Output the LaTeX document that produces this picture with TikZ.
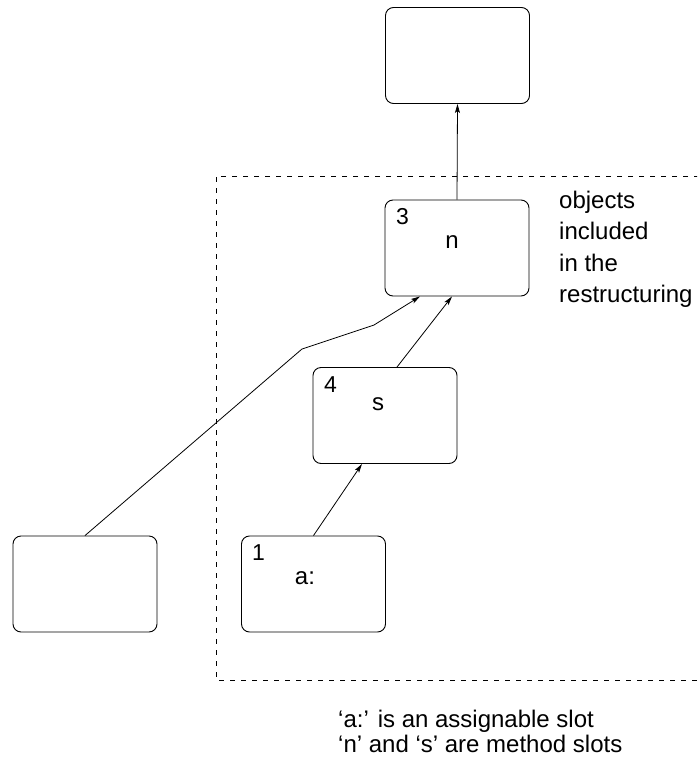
\documentclass[tikz,border=0pt]{standalone}
\usepackage{fontspec}
\setmainfont{Liberation Sans}
\usetikzlibrary{arrows.meta}
\begin{document}
\begin{tikzpicture}[x=1pt,y=-1pt,
  obj/.style={draw,line width=0.9pt,rounded corners=8pt,minimum width=144pt,minimum height=96pt,inner sep=0pt},
  link/.style={line width=0.8pt,-{Stealth[length=9pt,width=5pt,inset=2pt]}},
  region/.style={line width=0.8pt,dash pattern=on 5pt off 6pt},
  lbl/.style={inner sep=0pt,anchor=base,font=\fontsize{24}{28}\selectfont},
  num/.style={inner sep=0pt,anchor=base west,font=\fontsize{23}{28}\selectfont},
  note/.style={inner sep=0pt,anchor=base west,font=\fontsize{24}{28}\selectfont}]
\useasboundingbox (0,0) rectangle (697,768);
\clip (0,0) rectangle (697,768);

% restructuring region (runs off the right edge)
\draw[region] (710,176) -- (216,176) -- (216,680) -- (710,680);

% objects
\node[obj] (top) at (457.5,55.5) {};
\node[obj] (n3) at (457,248) {};
\node[obj] (n4) at (385,415.5) {};
\node[obj] (n1) at (313.5,584) {};
\node[obj] (other) at (85,584) {};

% slot labels and object numbers
\node[num] (k3) at (396,224) {3};
\node[lbl] (sn) at (452,248) {n};
\node[num] (k4) at (324,392) {4};
\node[lbl] (ss) at (378,410) {s};
\node[num] (k1) at (252,560) {1};
\node[lbl] (sa) at (305,584) {a:};

% parent links
\coordinate (b1) at (302,349);
\coordinate (b2) at (374,325);
\draw[link] (n3.north) -- (top.south);
\draw[link] ([xshift=12pt]n4.north) -- ([xshift=-5pt]n3.south);
\draw[link] (n1.north) -- ([xshift=-23pt]n4.south);
\draw[link] (other.north) -- (b1) -- (b2) -- ([xshift=-37pt]n3.south);

% side note
\node[note] (o1) at (559,208) {objects};
\node[note] (o2) at (559,239.5) {included};
\node[note] (o3) at (559,271) {in the};
\node[note] (o4) at (559,302) {restructuring};

% legend
\node[note] (l1) at (338,727) {‘a:’ is an assignable slot};
\node[note] (l2) at (338,752) {‘n’ and ‘s’ are method slots};
\end{tikzpicture}
\end{document}
